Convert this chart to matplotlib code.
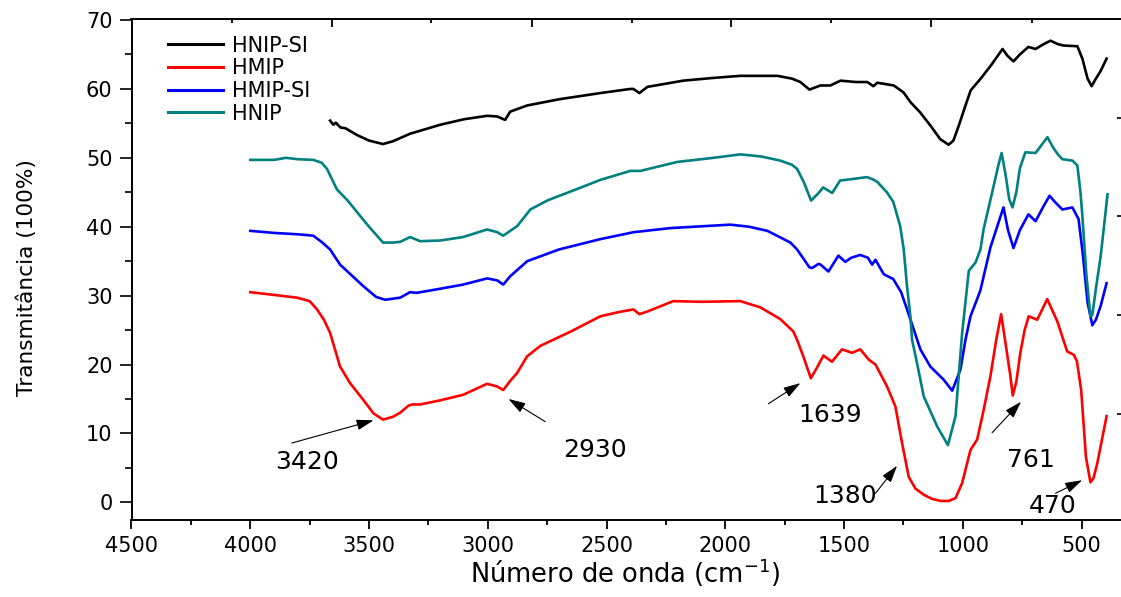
import matplotlib
matplotlib.use("Agg")
import matplotlib.pyplot as plt
from matplotlib.ticker import MultipleLocator, FixedLocator, NullFormatter

plt.rcParams['font.family'] = ['DejaVu Sans']

# ---------------- data ----------------
series_names = ["HNIP-SI", "HMIP", "HMIP-SI", "HNIP"]
series_colors = ["#000000", "#FF0000", "#0000FF", "#008080"]

hnip_si_x = [3664, 3650, 3640, 3620, 3600, 3575, 3550, 3500, 3441, 3400, 3327, 3200, 3100,
             3003, 2960, 2927, 2906, 2834, 2700, 2526, 2400, 2387, 2362, 2328, 2177, 2050,
             1937, 1781, 1720, 1684, 1646, 1600, 1558, 1515, 1450, 1402, 1377, 1360, 1291,
             1250, 1221, 1180, 1137, 1095, 1060, 1040, 1017, 990, 967, 925, 880, 833, 812,
             787, 760, 724, 694, 660, 631, 600, 576, 518, 497, 475, 458, 440, 420, 395]
hnip_si_y = [55.4, 54.8, 55.1, 54.4, 54.3, 53.8, 53.3, 52.5, 52.0, 52.4, 53.5, 54.8, 55.6,
             56.1, 56.0, 55.5, 56.7, 57.6, 58.5, 59.4, 60.0, 60.0, 59.4, 60.3, 61.2, 61.6,
             61.9, 61.9, 61.5, 61.0, 59.9, 60.5, 60.5, 61.2, 61.0, 61.0, 60.4, 60.9, 60.5,
             59.5, 58.1, 56.6, 54.7, 52.7, 51.9, 52.5, 54.7, 57.5, 59.8, 61.5, 63.5, 65.8, 64.8,
             64.0, 65.0, 66.1, 65.8, 66.5, 67.0, 66.5, 66.3, 66.2, 64.4, 61.5, 60.4, 61.5, 62.6, 64.4]

hmip_x = [4000, 3900, 3803, 3750, 3719, 3690, 3664, 3622, 3580, 3525, 3481, 3441, 3400, 3369,
          3335, 3319, 3285, 3200, 3104, 3003, 2960, 2935, 2906, 2876, 2834, 2779, 2650, 2526,
          2450, 2387, 2362, 2328, 2219, 2100, 1937, 1853, 1769, 1714, 1698, 1672, 1640, 1615,
          1587, 1551, 1509, 1467, 1432, 1396, 1368, 1319, 1284, 1256, 1228, 1200, 1165, 1130,
          1094, 1060, 1031, 1003, 968, 940, 915, 884, 860, 839, 820, 800, 790, 775, 758, 740, 723,
          687, 645, 603, 561, 533, 520, 502, 482, 463, 450, 434, 395]
hmip_y = [30.5, 30.1, 29.7, 29.2, 28.0, 26.5, 24.6, 19.7, 17.3, 14.9, 12.9, 12.0, 12.4, 13.0,
          14.0, 14.2, 14.2, 14.8, 15.6, 17.2, 16.8, 16.3, 17.6, 18.8, 21.2, 22.7, 24.8, 27.0,
          27.6, 28.0, 27.3, 27.7, 29.2, 29.1, 29.2, 28.3, 26.6, 24.8, 23.6, 21.2, 18.0, 19.5,
          21.3, 20.4, 22.2, 21.7, 22.2, 20.7, 20.0, 16.8, 13.9, 8.6, 3.7, 2.0, 1.1, 0.5,
          0.2, 0.2, 0.6, 2.8, 7.6, 9.1, 13.0, 18.3, 23.5, 27.3, 23.0, 18.3, 15.5, 17.5, 21.7, 25.0, 27.0,
          26.5, 29.5, 26.3, 21.9, 21.4, 20.5, 16.3, 6.6, 2.9, 3.5, 5.7, 12.5]

hmip_si_x = [4000, 3900, 3800, 3735, 3700, 3664, 3622, 3525, 3470, 3432, 3369, 3327, 3300,
             3200, 3104, 3003, 2960, 2935, 2906, 2834, 2700, 2526, 2387, 2232, 1979, 1900,
             1823, 1726, 1698, 1660, 1646, 1635, 1608, 1599, 1566, 1524, 1495, 1470, 1432,
             1400, 1382, 1368, 1333, 1293, 1260, 1235, 1179, 1137, 1081, 1045, 1010, 989,
             968, 940, 926, 884, 833, 829, 810, 787, 760, 724, 694, 660, 635, 610, 581, 539,
             513, 495, 475, 455, 440, 420, 395]
hmip_si_y = [39.4, 39.1, 38.9, 38.7, 37.8, 36.7, 34.5, 31.4, 29.8, 29.4, 29.7, 30.5, 30.4,
             31.0, 31.6, 32.5, 32.2, 31.6, 32.8, 35.0, 36.7, 38.2, 39.2, 39.8, 40.3, 40.0,
             39.4, 37.7, 36.7, 34.8, 34.1, 34.0, 34.6, 34.5, 33.5, 35.8, 34.9, 35.5, 35.9,
             35.5, 34.5, 35.2, 33.1, 32.4, 30.5, 28.0, 22.2, 19.7, 17.8, 16.2, 19.3, 23.6,
             27.0, 29.5, 30.8, 37.0, 42.4, 42.8, 39.5, 36.9, 39.5, 41.8, 40.8, 43.0, 44.5, 43.5, 42.5, 42.8,
             41.1, 36.0, 29.0, 25.7, 26.5, 28.5, 31.8]

hnip_x = [4000, 3900, 3850, 3800, 3735, 3700, 3677, 3635, 3590, 3550, 3500, 3441, 3400, 3369,
          3327, 3285, 3200, 3104, 3003, 2960, 2935, 2876, 2821, 2750, 2600, 2526, 2400, 2358,
          2203, 2050, 1937, 1850, 1769, 1720, 1698, 1670, 1639, 1610, 1588, 1550, 1517, 1470,
          1404, 1380, 1360, 1320, 1293, 1264, 1249, 1235, 1221, 1214, 1193, 1165, 1108, 1063,
          1031, 1003, 975, 947, 926, 913, 880, 850, 837, 820, 805, 791, 775, 760, 737, 694,
          670, 644, 620, 600, 581, 539, 518, 505, 497, 480, 463, 455, 440, 420, 391]
hnip_y = [49.7, 49.7, 50.0, 49.8, 49.7, 49.3, 48.4, 45.4, 43.8, 42.1, 40.0, 37.7, 37.7, 37.8,
          38.5, 37.9, 38.0, 38.5, 39.6, 39.2, 38.7, 40.1, 42.5, 43.8, 45.8, 46.8, 48.1, 48.1,
          49.4, 50.0, 50.5, 50.2, 49.6, 49.0, 48.4, 46.5, 43.8, 44.8, 45.7, 44.9, 46.7, 46.9,
          47.2, 46.9, 46.5, 45.0, 43.6, 40.1, 36.7, 31.3, 27.0, 23.6, 20.2, 15.4, 11.0, 8.3,
          12.5, 24.6, 33.6, 34.8, 36.7, 39.6, 44.5, 49.0, 50.7, 47.5, 44.0, 42.8, 45.0, 48.5, 50.8, 50.7,
          51.8, 53.0, 51.5, 50.5, 49.8, 49.6, 48.9, 45.0, 41.6, 33.0, 27.0, 27.2, 31.0, 35.7, 44.7]

# peak annotations: label, label position, arrow tail, arrow head (data units)
peak_labels = ["3420", "2930", "1639", "1380", "761", "470"]
peak_label_pos = [(3762, 5.9), (2548, 7.6), (1561, 12.6), (1495, 0.9), (715, 6.2), (624, -0.6)]
peak_arrow_tail = [(3825, 8.6), (2758, 11.7), (1819, 14.3), (1368, 1.3), (877, 10.1), (610, 1.3)]
peak_arrow_head = [(3481, 11.9), (2913, 15.0), (1684, 17.3), (1277, 5.3), (755, 14.6), (498, 3.2)]

x_ticks = [4500, 4000, 3500, 3000, 2500, 2000, 1500, 1000, 500]
y_ticks = [0, 10, 20, 30, 40, 50, 60, 70]

# ---------------- figure ----------------
W, H = 1121, 597
fig = plt.figure(figsize=(W / 100, H / 100), dpi=100)
left_px, right_px, top_px, bottom_px = 131.5, 1122.5, 19, 520
ax = fig.add_axes([left_px / W, (H - bottom_px) / H, (right_px - left_px) / W, (bottom_px - top_px) / H])

xs = [hnip_si_x, hmip_x, hmip_si_x, hnip_x]
ys = [hnip_si_y, hmip_y, hmip_si_y, hnip_y]
for x, y, name, c in zip(xs, ys, series_names, series_colors):
    ax.plot(x, y, color=c, lw=1.9, label=name, solid_joinstyle='round')

ax.set_xlim(4500, 328)
ax.set_ylim(-2.57, 70.15)
ax.xaxis.set_major_locator(FixedLocator(x_ticks))
ax.xaxis.set_minor_locator(MultipleLocator(250))
ax.yaxis.set_major_locator(FixedLocator(y_ticks))
ax.yaxis.set_minor_locator(MultipleLocator(5))
ax.tick_params(axis='x', which='major', direction='out', length=6.5, width=1.3, labelsize=15, pad=5)
ax.tick_params(axis='x', which='minor', direction='out', length=3.6, width=1.3)
ax.tick_params(axis='y', which='major', direction='out', length=8.6, width=1.2, labelsize=15, pad=5)
ax.tick_params(axis='y', which='minor', direction='out', length=5, width=1.2)
ax.tick_params(top=False, right=False, which='both')
for s in ax.spines.values():
    s.set_linewidth(1.4)
ax.spines['right'].set_visible(False)

ax.set_xlabel("Número de onda (cm$^{-1}$)", fontsize=18.5, va='center')
ax.xaxis.set_label_coords(0.498, -0.106)
ax.set_ylabel("Transmitância (100%)", fontsize=15.6, va='center')
ax.yaxis.set_label_coords((27 - left_px) / (right_px - left_px), (bottom_px - 278) / (bottom_px - top_px))

# top axis ticks (inward, no labels)
axt = ax.twiny()
axt.set_xlim(0, (right_px - left_px) / 100.0)
axt.xaxis.set_major_locator(FixedLocator([2, 4, 6, 8]))
axt.xaxis.set_minor_locator(FixedLocator([1, 3, 5, 7, 9]))
axt.xaxis.set_major_formatter(NullFormatter())
axt.tick_params(axis='x', which='major', direction='in', length=5.8, width=1.3)
axt.tick_params(axis='x', which='minor', direction='in', length=3, width=1.3)
for s in axt.spines.values():
    s.set_visible(False)

# right axis ticks (inward, no labels)
axr = ax.twinx()
span = (bottom_px - top_px) / 98.7
axr.set_ylim(-span, 0)
axr.yaxis.set_major_locator(FixedLocator([-1, -2, -3, -4]))
axr.yaxis.set_major_formatter(NullFormatter())
axr.tick_params(axis='y', which='major', direction='in', length=3.6, width=1.2)
for s in axr.spines.values():
    s.set_visible(False)

# annotations
for lab, lp, tail, head in zip(peak_labels, peak_label_pos, peak_arrow_tail, peak_arrow_head):
    ax.annotate("", xy=head, xytext=tail,
                arrowprops=dict(arrowstyle='-|>,head_length=0.8,head_width=0.25',
                                color='black', lw=0.8, shrinkA=0, shrinkB=0,
                                mutation_scale=13))
    ax.text(lp[0], lp[1], lab, fontsize=18, ha='center', va='center')

leg = ax.legend(loc='upper left', bbox_to_anchor=(168 / W, 1 - 35.6 / H),
                bbox_transform=fig.transFigure, frameon=False, fontsize=15,
                labelspacing=0.13, handlelength=2.65, handletextpad=0.42,
                borderpad=0, borderaxespad=0)
for h in leg.get_lines():
    h.set_linewidth(2.2)

fig.savefig("out.png", dpi=100)
